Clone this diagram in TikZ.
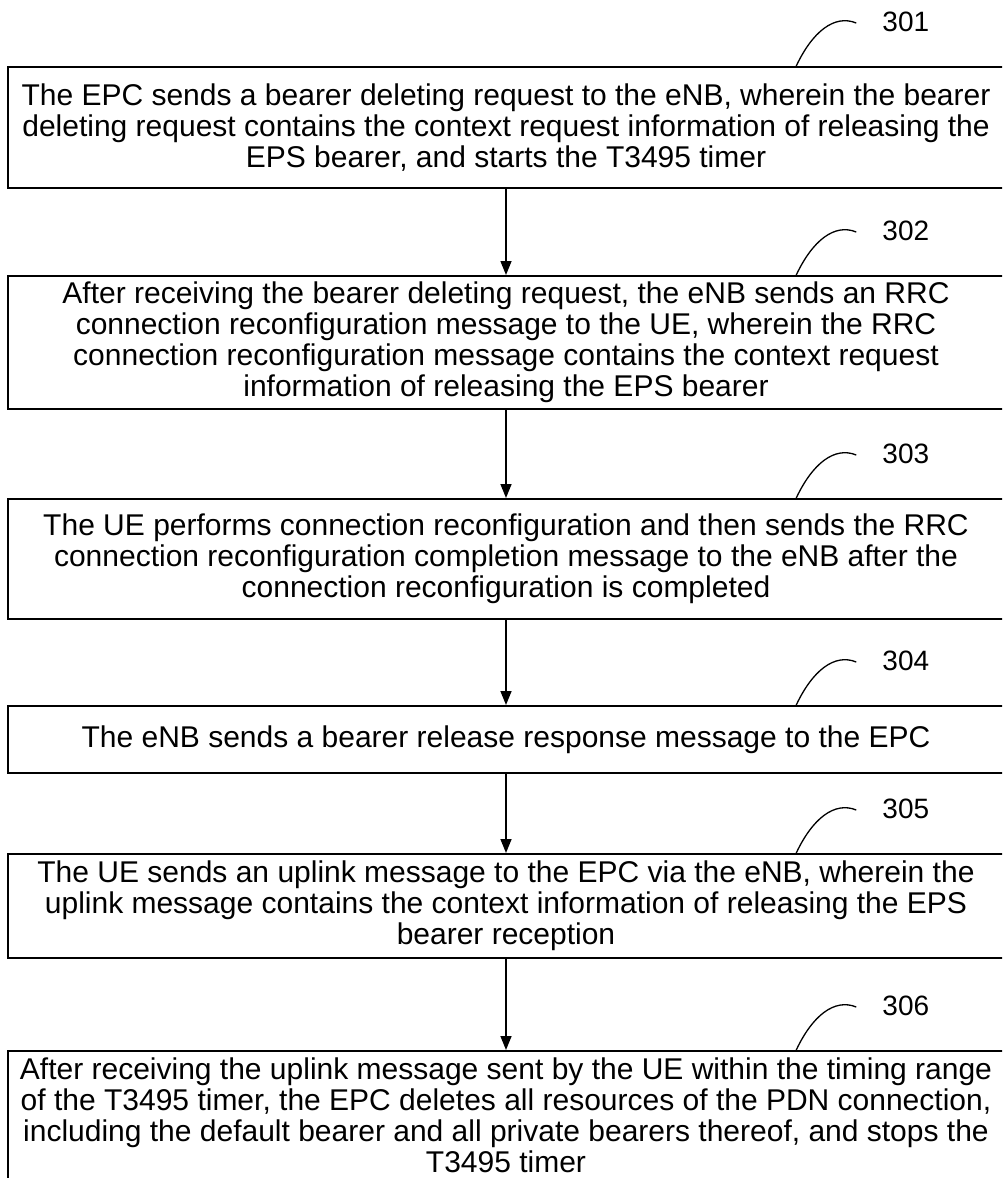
\documentclass[tikz,border=0pt]{standalone}
\usepackage{fontspec}
\setmainfont{Liberation Sans}
\usetikzlibrary{arrows.meta,calc}

\begin{document}
\begin{tikzpicture}[x=1pt,y=-1pt,
  stepbox/.style={draw, line width=1.5pt, anchor=north, minimum width=996pt,
    inner sep=0pt, align=center, font=\fontsize{30}{31}\selectfont},
  lbl/.style={anchor=west, inner sep=0pt, font=\fontsize{28}{31}\selectfont},
  flow/.style={line width=1.5pt, -{Triangle[width=11pt,length=14pt]}},
  tick/.style={line width=1.3pt}]
\useasboundingbox (0,0) rectangle (1002,1178);
\clip (0,0) rectangle (1002,1178);

% process steps
\node[stepbox, minimum height=121pt] (s1) at (506,66)
  {The EPC sends a bearer deleting request to the eNB, wherein the bearer\\
   deleting request contains the context request information of releasing the\\
   EPS bearer, and starts the T3495 timer};
\node[stepbox, minimum height=133pt] (s2) at (506,275)
  {After receiving the bearer deleting request, the eNB sends an RRC\\
   connection reconfiguration message to the UE, wherein the RRC\\
   connection reconfiguration message contains the context request\\
   information of releasing the EPS bearer};
\node[stepbox, minimum height=120pt] (s3) at (506,498)
  {The UE performs connection reconfiguration and then sends the RRC\\
   connection reconfiguration completion message to the eNB after the\\
   connection reconfiguration is completed};
\node[stepbox, minimum height=67pt] (s4) at (506,705)
  {The eNB sends a bearer release response message to the EPC};
\node[stepbox, minimum height=104pt] (s5) at (506,853)
  {The UE sends an uplink message to the EPC via the eNB, wherein the\\
   uplink message contains the context information of releasing the EPS\\
   bearer reception};
\node[stepbox, minimum height=130pt] (s6) at (506,1050)
  {After receiving the uplink message sent by the UE within the timing range\\
   of the T3495 timer, the EPC deletes all resources of the PDN connection,\\
   including the default bearer and all private bearers thereof, and stops the\\
   T3495 timer};

% flow arrows
\foreach \a/\b in {s1/s2,s2/s3,s3/s4,s4/s5,s5/s6}
  \draw[flow] (\a.south) -- (\b.north);

% reference numerals with lead lines
\foreach \s/\n in {s1/301,s2/302,s3/303,s4/304,s5/305,s6/306}{
  \coordinate (c\n) at ($(\s.north west)+(789,0)$);
  \node[lbl] (l\n) at ($(c\n)+(86,-44)$) {\n};
  \coordinate (e\n) at ($(c\n)+(60,-43)$);
  \draw[tick] (c\n) .. controls +(16,-34) and +(-22,-9) .. (e\n);
}
\end{tikzpicture}
\end{document}
